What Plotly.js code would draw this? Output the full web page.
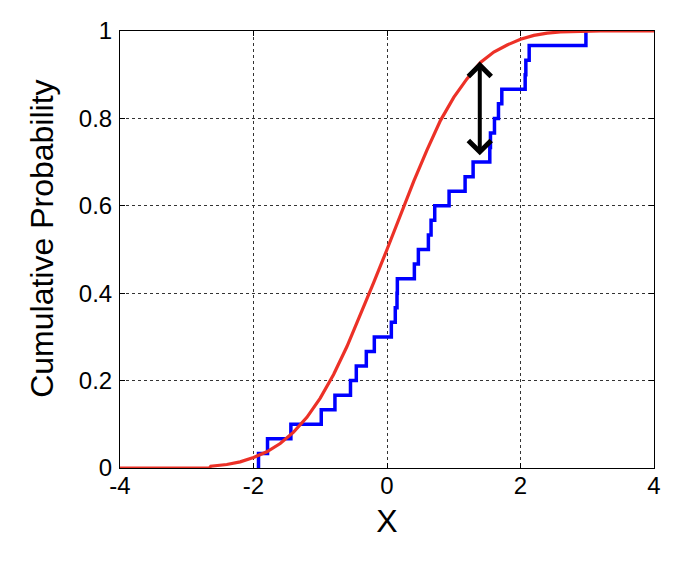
<!DOCTYPE html>
<html>
<head>
<meta charset="utf-8">
<script src="https://cdn.plot.ly/plotly-3.0.1.min.js"></script>
<style>
  html, body { margin: 0; padding: 0; background: #ffffff; }
  #chart { width: 680px; height: 568px; }
</style>
</head>
<body>
<div id="chart"></div>
<script>
const sampleX = [-1.925, -1.79, -1.44, -0.985, -0.78, -0.547, -0.46, -0.31, -0.19, 0.065,
                 0.124, 0.15, 0.155, 0.41, 0.47, 0.62, 0.66, 0.715, 0.93, 1.17,
                 1.29, 1.54, 1.55, 1.61, 1.67, 1.72, 2.07, 2.08, 2.13, 2.98];
const sampleP = [0.0333, 0.0667, 0.1, 0.1333, 0.1667, 0.2, 0.2333, 0.2667, 0.3, 0.3333,
                 0.3667, 0.4, 0.4333, 0.4667, 0.5, 0.5333, 0.5667, 0.6, 0.6333, 0.6667,
                 0.7, 0.7333, 0.7667, 0.8, 0.8333, 0.8667, 0.9, 0.9333, 0.9667, 1.0];

// Reference CDF (red): points
const refX = [-4, -2.66, -2.64, -2.4, -2.2, -2.0, -1.8, -1.6, -1.4, -1.2, -1.0, -0.8, -0.6, -0.4, -0.2,
              0, 0.2, 0.4, 0.6, 0.8, 1.0, 1.2, 1.4, 1.6, 1.8, 2.0, 2.2, 2.4, 2.6, 2.8, 3.0, 3.2, 4];
const refP = [0, 0, 0.004, 0.008, 0.014, 0.024, 0.037, 0.056, 0.082, 0.116, 0.16, 0.214, 0.278, 0.349, 0.424,
              0.5, 0.58, 0.656, 0.728, 0.795, 0.848, 0.891, 0.928, 0.952, 0.968, 0.981, 0.99, 0.995, 0.998, 0.999, 1, 1, 1];

// Arrow marking the maximum distance
const arrowX = 1.39;
const arrowTop = 0.93;
const arrowBottom = 0.712;

// Ticks and labels
const xTickVals = [-4, -2, 0, 2, 4];
const xTickText = ['-4', '-2', '0', '2', '4'];
const yTickVals = [0, 0.2, 0.4, 0.6, 0.8, 1];
const yTickText = ['0', '0.2', '0.4', '0.6', '0.8', '1'];
const xTitle = 'X';
const yTitle = 'Cumulative Probability';

const ecdfX = [sampleX[0]].concat(sampleX);
const ecdfY = [0].concat(sampleP);

const FONT = '"Liberation Sans", Arial, sans-serif';

const traces = [
  {
    x: ecdfX, y: ecdfY, type: 'scatter', mode: 'lines',
    line: { color: '#0000ff', width: 3.5, shape: 'hv' },
    hoverinfo: 'skip', showlegend: false
  },
  {
    x: refX, y: refP, type: 'scatter', mode: 'lines',
    line: { color: '#ec3127', width: 3.2, shape: 'linear' },
    hoverinfo: 'skip', showlegend: false
  }
];

const axisCommon = {
  showline: true, linecolor: '#000', linewidth: 1, mirror: 'ticks',
  ticks: 'inside', ticklen: 5, tickcolor: '#000', tickwidth: 1,
  showgrid: true, gridcolor: '#333', gridwidth: 1, griddash: '3px,3px',
  zeroline: false, tickfont: { family: FONT, size: 24, color: '#000' }
};

const layout = {
  width: 680, height: 568,
  margin: { l: 120, r: 26, t: 31, b: 100 },
  paper_bgcolor: '#fff', plot_bgcolor: '#fff',
  xaxis: Object.assign({}, axisCommon, {
    range: [-4, 4], tickmode: 'array', tickvals: xTickVals, ticktext: xTickText,
    ticklabelstandoff: -4,
    title: { text: xTitle, font: { family: FONT, size: 32, color: '#000' }, standoff: 11 }
  }),
  yaxis: Object.assign({}, axisCommon, {
    range: [0, 1], tickmode: 'array', tickvals: yTickVals, ticktext: yTickText,
    ticklabelstandoff: 2
  }),
  annotations: [
    {
      x: arrowX, y: arrowTop, ax: arrowX, ay: arrowBottom,
      xref: 'x', yref: 'y', axref: 'x', ayref: 'y',
      text: '', showarrow: true, arrowhead: 4, startarrowhead: 4,
      arrowside: 'end+start', arrowsize: 1.1, arrowwidth: 4, arrowcolor: '#000'
    },
    {
      text: yTitle, textangle: -90, showarrow: false,
      xref: 'paper', yref: 'paper', x: -0.146, y: 0.5246,
      xanchor: 'center', yanchor: 'middle',
      font: { family: FONT, size: 32, color: '#000' }
    }
  ]
};

Plotly.newPlot('chart', traces, layout, { displayModeBar: false, staticPlot: true });
</script>
</body>
</html>
